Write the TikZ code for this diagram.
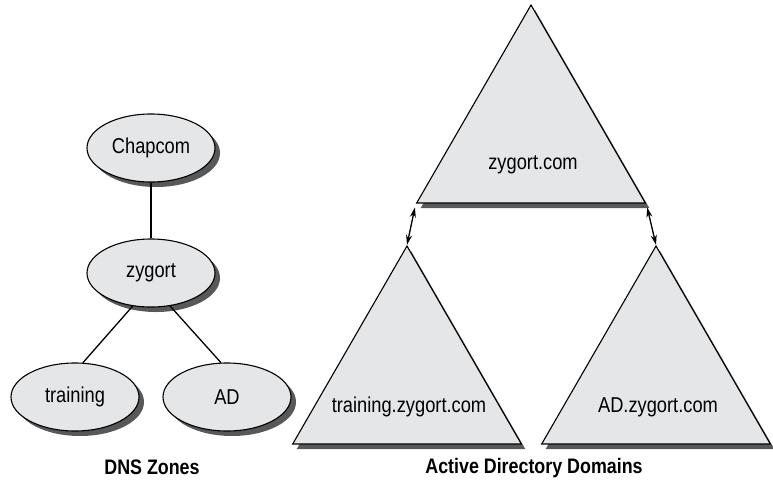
\documentclass[tikz,border=0pt]{standalone}
\usepackage{fontspec}
\setmainfont{Liberation Sans}[FakeStretch=0.85]
\usetikzlibrary{shapes.geometric, shadows, arrows.meta, positioning}

\definecolor{zonefill}{RGB}{229,230,232}
\definecolor{shadowgray}{RGB}{88,88,88}

\begin{document}
\begin{tikzpicture}[x=1pt, y=-1pt,
          > = {Stealth[length=10pt, width=6pt]}, % arrow head style
          line width = 1.3pt % line style
      ]

      \tikzstyle{zone}=[
          ellipse,
          draw = black,
          line width = 1.1pt,
          fill = zonefill,
          minimum width = 128pt,
          minimum height = 68pt,
          inner sep = 0pt,
          font = \fontsize{21.5}{24}\selectfont,
          drop shadow = {shadow xshift=5pt, shadow yshift=-5pt, fill=shadowgray, opacity=1}
      ]
      \tikzstyle{adtriangle}=[
          regular polygon,
          regular polygon sides = 3,
          draw = black,
          line width = 1.1pt,
          fill = zonefill,
          minimum size = 264pt,
          inner sep = 0pt,
          drop shadow = {shadow xshift=4pt, shadow yshift=-5pt, fill=shadowgray, opacity=1}
      ]
      \tikzstyle{domainname}=[font = \fontsize{21.5}{24}\selectfont]
      \tikzstyle{caption}=[font = \bfseries\fontsize{21}{23}\selectfont]

  \useasboundingbox (0,0) rectangle (773,488);

  % Draw the DNS zones.
  \node[zone] (chapcom) at (151, 148) {Chapcom};
  \node[zone] (zygort) at (151, 273) {zygort};
  \node[zone] (training) at (75, 397) {training};
  \node[zone] (ad) at (227, 397) {AD};

  \node[caption] (dns) at (152, 467) {DNS Zones};

  % Draw the domains.
  \node[adtriangle] (root) at (531, 137) {};
  \node[adtriangle] (trainingdom) at (407, 378) {};
  \node[adtriangle] (addom) at (656, 378) {};

  \node[domainname] (rootname) at (533, 165) {zygort.com};
  \node[domainname] (trainingname) at (409, 407) {training.zygort.com};
  \node[domainname] (adname) at (658, 407) {AD.zygort.com};

  \node[caption] (addomains) at (534, 468) {Active Directory Domains};

  % Connect zones with edges
  \path (chapcom) edge[line width=1.3pt] (zygort);
  \path (zygort.241) edge[line width=1.3pt] (training.77);
  \path (zygort.300) edge[line width=1.3pt] (ad.100);

  % Trust arrows between domains
  \path (root.corner 2) edge[<->, line width=1.3pt, shorten <=4pt] (trainingdom.corner 1);
  \path (root.corner 3) edge[<->, line width=1.3pt, shorten <=4pt] (addom.corner 1);
\end{tikzpicture}
\end{document}
